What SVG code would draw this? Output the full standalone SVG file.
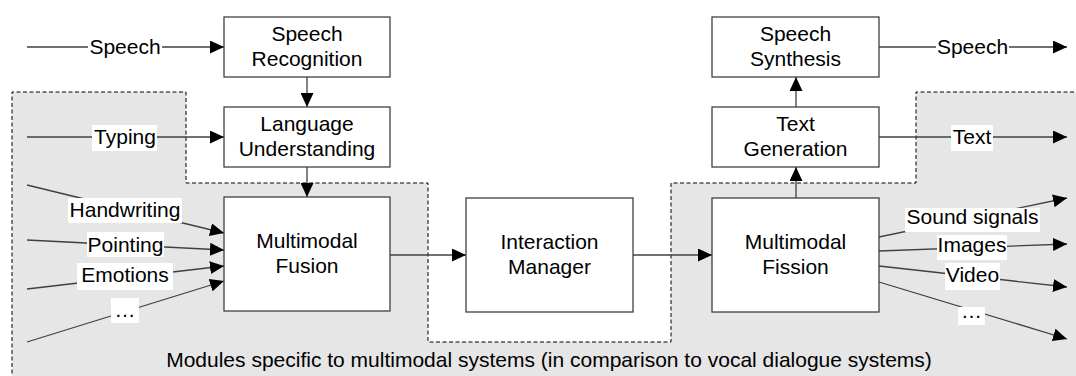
<svg xmlns="http://www.w3.org/2000/svg" width="1076" height="376" viewBox="0 0 1076 376">
<style>
text{font-family:"Liberation Sans",Arial,sans-serif;font-size:21px;fill:#000;text-anchor:middle}
.box{fill:#fff;stroke:#404040;stroke-width:1.3}
.ln{fill:none;stroke:#404040;stroke-width:1.3;marker-end:url(#ah)}
.bg{fill:#fff}
</style>
<defs>
<marker id="ah" markerUnits="userSpaceOnUse" markerWidth="15" markerHeight="13" refX="14" refY="6.5" orient="auto">
<path d="M0,0 L14,6.5 L0,13 Z" fill="#000"/>
</marker>
</defs>
<rect width="1076" height="376" fill="#fff"/>
<g id="region">
<path d="M12,380 L12,92 L186,92 L186,183 L428,183 L428,342 L671,342 L671,183 L916,183 L916,92 L1080,92 L1080,380 Z" fill="#e6e6e6" stroke="#000" stroke-width="1" stroke-dasharray="4,2.5"/>
<text x="549" y="367">Modules specific to multimodal systems (in comparison to vocal dialogue systems)</text>
</g>
<g id="connectors">
<line class="ln" x1="27" y1="47" x2="224" y2="47"/>
<line class="ln" x1="27" y1="137" x2="224" y2="137"/>
<line class="ln" x1="307" y1="77" x2="307" y2="107"/>
<line class="ln" x1="307" y1="167" x2="307" y2="197"/>
<line class="ln" x1="27" y1="185" x2="224" y2="233"/>
<line class="ln" x1="27" y1="240" x2="224" y2="250"/>
<line class="ln" x1="27" y1="289" x2="224" y2="266"/>
<line class="ln" x1="27" y1="342" x2="224" y2="281"/>
<line class="ln" x1="390" y1="255" x2="466" y2="255"/>
<line class="ln" x1="633" y1="255" x2="712" y2="255"/>
<line class="ln" x1="796" y1="198" x2="796" y2="167"/>
<line class="ln" x1="796" y1="107" x2="796" y2="77"/>
<line class="ln" x1="879" y1="47" x2="1067" y2="47"/>
<line class="ln" x1="879" y1="137" x2="1067" y2="137"/>
<line class="ln" x1="879" y1="237" x2="1067" y2="198"/>
<line class="ln" x1="879" y1="251" x2="1067" y2="244"/>
<line class="ln" x1="879" y1="266" x2="1067" y2="287"/>
<line class="ln" x1="879" y1="282" x2="1067" y2="339"/>
</g>
<g id="labels">
<rect class="bg" x="88" y="34" width="74" height="26"/><text x="125" y="54">Speech</text>
<rect class="bg" x="92" y="125" width="65" height="26"/><text x="125" y="144">Typing</text>
<rect class="bg" x="68" y="198" width="114" height="25"/><text x="125" y="217">Handwriting</text>
<rect class="bg" x="87" y="232" width="77" height="25"/><text x="125.5" y="252">Pointing</text>
<rect class="bg" x="77" y="263" width="96" height="27"/><text x="125" y="282">Emotions</text>
<rect class="bg" x="111" y="298" width="28" height="25"/><text x="125" y="317">…</text>
<rect class="bg" x="936" y="34" width="73" height="26"/><text x="972.5" y="54">Speech</text>
<rect class="bg" x="951" y="125" width="42" height="26"/><text x="972" y="144">Text</text>
<rect class="bg" x="905" y="208" width="135" height="24"/><text x="972.5" y="224">Sound signals</text>
<rect class="bg" x="937" y="235" width="70" height="25"/><text x="972" y="252">Images</text>
<rect class="bg" x="945" y="263" width="55" height="27"/><text x="972.5" y="282">Video</text>
<rect class="bg" x="958" y="307" width="27" height="18"/><text x="971.5" y="318">…</text>
</g>
<g id="speech-recognition">
<rect class="box" x="224" y="17" width="166" height="60"/>
<text x="307" y="41">Speech</text><text x="307" y="66">Recognition</text>
</g>
<g id="language-understanding">
<rect class="box" x="224" y="107" width="166" height="60"/>
<text x="307" y="131">Language</text><text x="307" y="156">Understanding</text>
</g>
<g id="multimodal-fusion">
<rect class="box" x="224" y="197" width="166" height="114"/>
<text x="307" y="248">Multimodal</text><text x="307" y="273">Fusion</text>
</g>
<g id="interaction-manager">
<rect class="box" x="466" y="198" width="167" height="114"/>
<text x="549.5" y="249">Interaction</text><text x="549.5" y="274">Manager</text>
</g>
<g id="multimodal-fission">
<rect class="box" x="712" y="198" width="167" height="114"/>
<text x="795.5" y="249">Multimodal</text><text x="795.5" y="274">Fission</text>
</g>
<g id="text-generation">
<rect class="box" x="712" y="107" width="167" height="60"/>
<text x="795.5" y="131">Text</text><text x="795.5" y="156">Generation</text>
</g>
<g id="speech-synthesis">
<rect class="box" x="712" y="17" width="167" height="60"/>
<text x="795.5" y="41">Speech</text><text x="795.5" y="66">Synthesis</text>
</g>
</svg>
